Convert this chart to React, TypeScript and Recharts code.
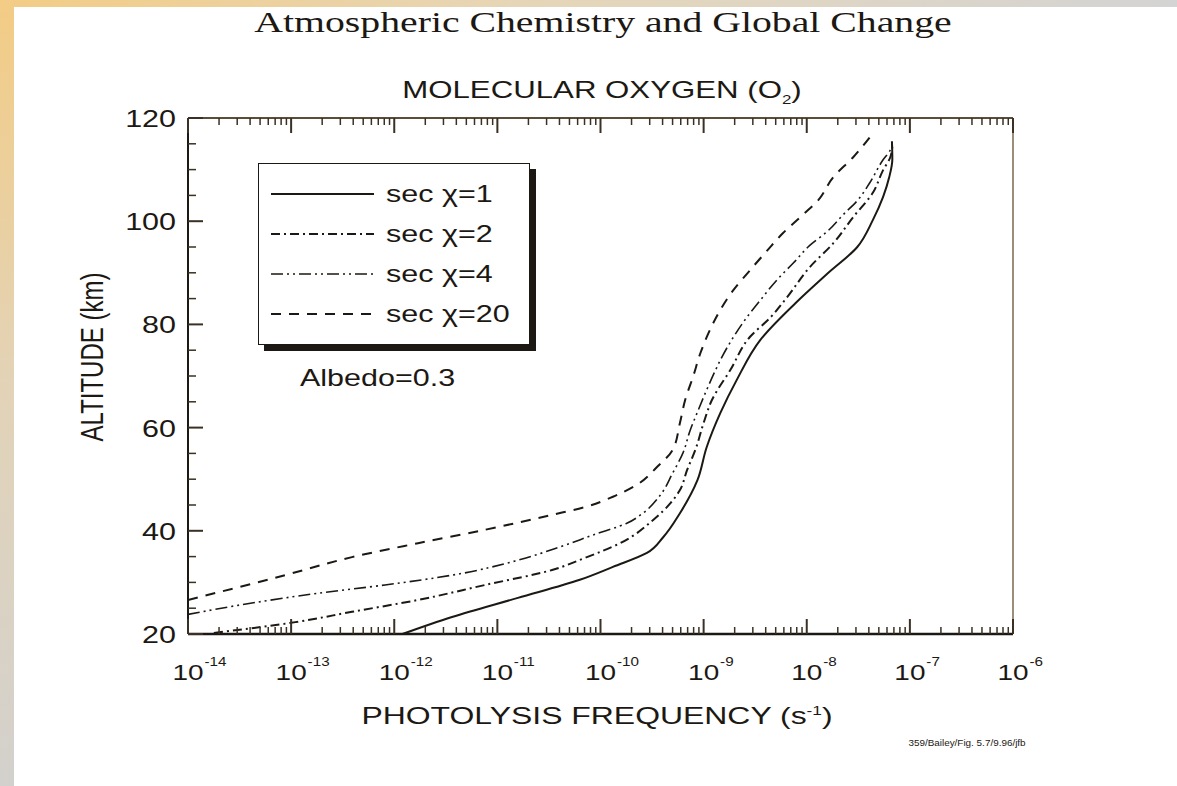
import React from 'react'
import { LineChart, Line, XAxis, YAxis, Legend } from 'recharts'

// photolysis frequency (s^-1) vs altitude (km)
const J_SEC1 = [1.2e-12, 3.63e-12, 1.58e-11, 6.3e-11, 1.32e-10, 2.82e-10, 4.07e-10, 5.89e-10, 8.71e-10, 1.07e-9, 1.45e-9, 2.09e-9, 3.55e-9, 7.76e-9, 1.58e-8, 3.09e-8, 4.37e-8, 5.5e-8, 6.3e-8, 6.76e-8, 6.7e-8]
const ALT_SEC1 = [20, 23.3, 27, 30.5, 33, 35.7, 38.8, 43.4, 49.8, 56.2, 62.8, 69.2, 77, 84.1, 89.8, 95, 100.2, 104.7, 108.5, 112, 115.5]

const J_SEC2 = [1.78e-14, 1.1e-13, 3.89e-13, 1.7e-12, 7.59e-12, 3.39e-11, 6.76e-11, 1.55e-10, 3.24e-10, 4.79e-10, 5.89e-10, 6.92e-10, 8.32e-10, 1.0e-9, 1.2e-9, 1.82e-9, 2.82e-9, 4.47e-9, 6.46e-9, 1.07e-8, 1.82e-8, 2.82e-8, 4.37e-8, 5.5e-8, 6.46e-8, 6.76e-8]
const ALT_SEC2 = [20.2, 22.3, 24.3, 26.6, 29.5, 32.4, 34.6, 37.6, 42.1, 45.4, 47.9, 51.8, 55.7, 60.9, 65.3, 71.2, 77.6, 81.4, 85.3, 91.1, 95.8, 100.8, 105.5, 109.9, 112.4, 114.5]

const J_SEC4 = [1.0e-14, 4.17e-14, 1.82e-13, 8.13e-13, 3.63e-12, 1.58e-11, 4.07e-11, 8.51e-11, 1.82e-10, 2.57e-10, 3.8e-10, 5.01e-10, 6.31e-10, 7.41e-10, 8.71e-10, 1.07e-9, 1.7e-9, 2.4e-9, 3.55e-9, 5.13e-9, 7.41e-9, 1.07e-8, 1.58e-8, 2.24e-8, 3.16e-8, 4.07e-8, 5.5e-8, 6.46e-8, 6.76e-8]
const ALT_SEC4 = [23.8, 26, 27.9, 29.5, 31.4, 34.3, 36.9, 39.2, 41.5, 43.4, 46.9, 51.2, 55.1, 59.5, 63, 67.3, 75.6, 80.3, 84.7, 88.6, 91.9, 95.3, 98, 101.2, 104.2, 107.4, 111.9, 113.8, 115]

const J_SEC20 = [1.0e-14, 8.71e-14, 3.89e-13, 1.7e-12, 7.59e-12, 3.39e-11, 7.08e-11, 1.32e-10, 2.24e-10, 3.55e-10, 5.01e-10, 5.89e-10, 6.61e-10, 7.94e-10, 9.33e-10, 1.15e-9, 1.45e-9, 1.95e-9, 2.82e-9, 4.17e-9, 5.89e-9, 9.12e-9, 1.26e-8, 1.82e-8, 2.82e-8, 4.17e-8]
const ALT_SEC20 = [26.6, 31.4, 34.9, 37.6, 40.2, 43.1, 44.6, 46.6, 48.9, 52.4, 55.7, 60.9, 65.3, 70, 74.5, 78.9, 82.8, 86.7, 90.5, 94.4, 97.7, 101.2, 103.8, 108.6, 112.4, 116.5]

const X_EXPONENTS = [-14, -13, -12, -11, -10, -9, -8, -7, -6]
const Y_TICKS = [20, 25, 30, 35, 40, 45, 50, 55, 60, 65, 70, 75, 80, 85, 90, 95, 100, 105, 110, 115, 120]
const Y_LABELS = [20, 40, 60, 80, 100, 120]

const INK = '#1c1813'
const FRAME = '#3a3124'
const SX = 1.27 // the scan is stretched sideways
const sans = 'Liberation Sans, Arial, sans-serif'

function pairs(j: number[], alt: number[]) {
  return j.map((v, i) => ({ j: v, alt: alt[i] }))
}

const SERIES = [
  { key: 's1', name: 'sec \u03c7=1', data: pairs(J_SEC1, ALT_SEC1), dash: undefined, w: 2 },
  { key: 's2', name: 'sec \u03c7=2', data: pairs(J_SEC2, ALT_SEC2), dash: '9 4 2 4', w: 2 },
  { key: 's4', name: 'sec \u03c7=4', data: pairs(J_SEC4, ALT_SEC4), dash: '12 4 2 4 2 4', w: 1.6 },
  { key: 's20', name: 'sec \u03c7=20', data: pairs(J_SEC20, ALT_SEC20), dash: '10 8', w: 2 },
]

// major + minor log ticks
const X_TICKS: number[] = []
X_EXPONENTS.forEach((e, i) => {
  X_TICKS.push(Math.pow(10, e))
  if (i < X_EXPONENTS.length - 1) for (let m = 2; m <= 9; m++) X_TICKS.push(m * Math.pow(10, e))
})

function isMajor(v: number) {
  const l = Math.log10(v)
  return Math.abs(l - Math.round(l)) < 1e-6
}

function BottomTick({ x, y, payload }: any) {
  const v = payload.value
  const major = isMajor(v)
  const e = Math.round(Math.log10(v))
  return (
    <g>
      <line x1={x} x2={x} y1={y} y2={y - (major ? 15 : 7)} stroke={FRAME} strokeWidth={major ? 2 : 1.5} />
      {major && (
        <g transform={`translate(${x},${y + 46}) scale(${SX},1)`}>
          <text x={0} y={0} textAnchor="middle" fontSize={22} fill={INK} fontFamily={sans}>10</text>
          <text x={13} y={-14} textAnchor="start" fontSize={12} fill={INK} fontFamily={sans}>{e}</text>
        </g>
      )}
    </g>
  )
}

function TopTick({ x, y, payload }: any) {
  const major = isMajor(payload.value)
  return <line x1={x} x2={x} y1={y} y2={y + (major ? 15 : 7)} stroke={FRAME} strokeWidth={major ? 2 : 1.5} />
}

function LeftTick({ x, y, payload }: any) {
  const v = payload.value
  const major = v % 20 === 0
  return (
    <g>
      <line x1={x} x2={x + (major ? 15 : 8)} y1={y} y2={y} stroke={FRAME} strokeWidth={major ? 2 : 1.5} />
      {major && Y_LABELS.includes(v) && (
        <text transform={`translate(${x - 12},${y + 9}) scale(${SX},1)`} textAnchor="end" fontSize={24} fill={INK} fontFamily={sans}>{v}</text>
      )}
    </g>
  )
}

function RightTick({ x, y, payload }: any) {
  const major = payload.value % 20 === 0
  return <line x1={x} x2={x - (major ? 15 : 8)} y1={y} y2={y} stroke={FRAME} strokeWidth={major ? 2 : 1.5} />
}

function LegendBox() {
  return (
    <div style={{
      width: 272, height: 182, boxSizing: 'border-box', border: `1.5px solid ${INK}`,
      boxShadow: `6px 6px 0 ${INK}`, background: '#fff', position: 'relative',
    }}>
      {SERIES.map((s, i) => (
        <div key={s.key} style={{ position: 'absolute', left: 0, top: 30 + i * 40 - 15, height: 30, width: 272 }}>
          <svg width={110} height={30} style={{ position: 'absolute', left: 10, top: 0 }}>
            <line x1={2} x2={105} y1={15} y2={15} stroke={INK} strokeWidth={s.w} strokeDasharray={s.dash} />
          </svg>
          <span style={{
            position: 'absolute', left: 127, top: 0, lineHeight: '30px', fontSize: 24, color: INK,
            fontFamily: sans, transform: `scaleX(${SX})`, transformOrigin: 'left center', whiteSpace: 'nowrap',
          }}>{s.name}</span>
        </div>
      ))}
    </div>
  )
}

function Txt({ x, y, size, children, serif, origin = 'center', sx = SX }: any) {
  const tx = origin === 'center' ? '-50%' : '0'
  return (
    <div style={{
      position: 'absolute', left: x, top: y, fontSize: size, color: INK, whiteSpace: 'nowrap', lineHeight: 1,
      fontFamily: serif ? 'Liberation Serif, Times New Roman, serif' : sans,
      transform: `translate(${tx},-50%) scaleX(${sx})`, transformOrigin: origin === 'center' ? 'center' : 'left center',
    }}>{children}</div>
  )
}

export default function App() {
  return (
    <div style={{ position: 'absolute', left: 0, top: 0, width: 1177, height: 786, background: '#fff', overflow: 'hidden' }}>
      <div style={{ position: 'absolute', left: 0, top: 0, width: 1177, height: 7, background: 'linear-gradient(to right, #f3cc85, #e6d6b8 45%, #d4d4d4)' }} />
      <div style={{ position: 'absolute', left: 0, top: 0, width: 14, height: 786, background: 'linear-gradient(to bottom, #f3cc85, #e2d3b8 50%, #d3d1cd)' }} />

      <Txt x={603} y={22} size={29} serif sx={1.37}>Atmospheric Chemistry and Global Change</Txt>
      <Txt x={602} y={92} size={24} sx={1.3}>MOLECULAR OXYGEN (O<sub style={{ fontSize: 13 }}>2</sub>)</Txt>

      <div style={{ position: 'absolute', left: 0, top: 0 }}>
        <LineChart width={1177} height={786} margin={{ top: 117, right: 163, bottom: 151, left: 187 }}>
          <XAxis xAxisId="b" dataKey="j" type="number" scale="log" domain={[1e-14, 1e-6]} allowDataOverflow
            ticks={X_TICKS} interval={0} height={1} tickSize={0} tickMargin={0} tickLine={false}
            tick={<BottomTick />} axisLine={{ stroke: INK, strokeWidth: 2.5 }} />
          <XAxis xAxisId="t" orientation="top" dataKey="j" type="number" scale="log" domain={[1e-14, 1e-6]} allowDataOverflow
            ticks={X_TICKS} interval={0} height={1} tickSize={0} tickMargin={0} tickLine={false}
            tick={<TopTick />} axisLine={{ stroke: '#5b4d37', strokeWidth: 2 }} />
          <YAxis yAxisId="l" type="number" domain={[20, 120]} ticks={Y_TICKS} interval={0} width={1}
            tickSize={0} tickMargin={0} tickLine={false} tick={<LeftTick />} axisLine={{ stroke: INK, strokeWidth: 2 }} />
          <YAxis yAxisId="r" orientation="right" type="number" domain={[20, 120]} ticks={Y_TICKS} interval={0} width={1}
            tickSize={0} tickMargin={0} tickLine={false} tick={<RightTick />} axisLine={{ stroke: '#7a6a4e', strokeWidth: 1.5 }} />
          {SERIES.map(s => (
            <Line key={s.key} xAxisId="b" yAxisId="l" data={s.data} dataKey="alt" name={s.name} type="monotoneY"
              stroke={INK} strokeWidth={s.w} strokeDasharray={s.dash} dot={false} activeDot={false}
              isAnimationActive={false} />
          ))}
          <Legend layout="horizontal" verticalAlign="middle" align="center" content={<LegendBox />}
            wrapperStyle={{ position: 'absolute', left: 258, top: 163, width: 272, height: 182 }} />
        </LineChart>
      </div>

      <Txt x={300} y={378} size={24} origin="left">Albedo=0.3</Txt>
      <div style={{
        position: 'absolute', left: 93, top: 357, fontSize: 24, color: INK, fontFamily: sans, whiteSpace: 'nowrap', lineHeight: 1,
        transform: `translate(-50%,-50%) scaleX(${SX}) rotate(-90deg)`,
      }}>ALTITUDE (km)</div>
      <Txt x={597} y={716} size={24} sx={1.33}>PHOTOLYSIS FREQUENCY (s<sup style={{ fontSize: 13 }}>-1</sup>)</Txt>
      <Txt x={967} y={743} size={9} sx={1.1}>359/Bailey/Fig. 5.7/9.96/jfb</Txt>
    </div>
  )
}
